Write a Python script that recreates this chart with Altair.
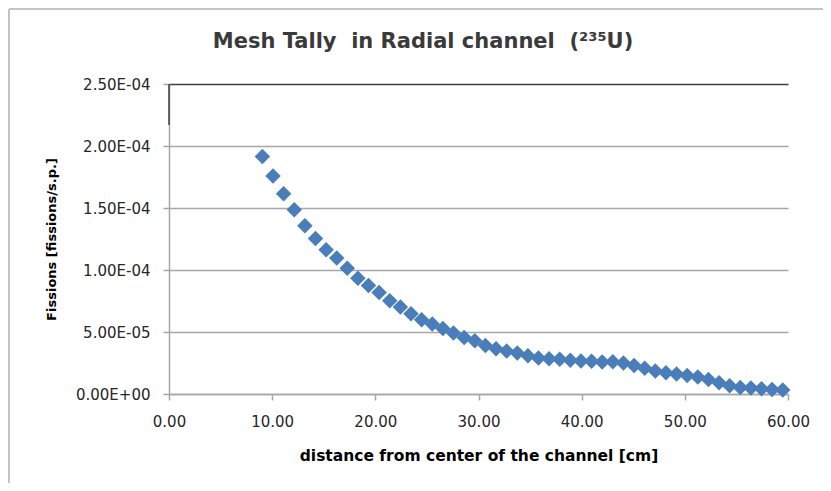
import altair as alt
import pandas as pd

# distance from center of the channel [cm] (mesh bin centres)
DISTANCE = [
    9.05, 10.08, 11.11, 12.14, 13.17, 14.20, 15.23, 16.26, 17.28, 18.31,
    19.34, 20.37, 21.40, 22.43, 23.46, 24.49, 25.52, 26.55, 27.58, 28.61,
    29.64, 30.67, 31.70, 32.73, 33.76, 34.79, 35.81, 36.84, 37.87, 38.90,
    39.93, 40.96, 41.99, 43.02, 44.05, 45.08, 46.11, 47.14, 48.17, 49.20,
    50.23, 51.26, 52.29, 53.32, 54.34, 55.37, 56.40, 57.43, 58.46, 59.49,
]
# fissions per source particle (x 1e-5)
FISSIONS_E5 = [
    19.15, 17.59, 16.14, 14.85, 13.56, 12.54, 11.63, 10.96, 10.15, 9.34,
    8.75, 8.19, 7.52, 7.01, 6.47, 5.99, 5.64, 5.28, 4.92, 4.56,
    4.30, 3.92, 3.65, 3.46, 3.30, 3.09, 2.90, 2.85, 2.80, 2.72,
    2.66, 2.64, 2.58, 2.60, 2.50, 2.30, 2.08, 1.86, 1.72, 1.62,
    1.50, 1.38, 1.16, 0.90, 0.66, 0.52, 0.48, 0.42, 0.37, 0.33,
]
Y_TICKS = [0, 5e-5, 1e-4, 1.5e-4, 2e-4, 2.5e-4]
Y_TICK_LABELS = ["0.00E+00", "5.00E-05", "1.00E-04", "1.50E-04", "2.00E-04", "2.50E-04"]
X_TICKS = [0, 10, 20, 30, 40, 50, 60]

NB = "\u00a0"
TITLE = "Mesh Tally " + NB + "in Radial channel " + NB + "(²³⁵U)"
X_TITLE = "distance from center of the channel [cm]"
Y_TITLE = "Fissions [fissions/s.p.]"

df = pd.DataFrame({"x": DISTANCE, "y": [v * 1e-5 for v in FISSIONS_E5]})

FONT = "DejaVu Sans"
label_expr = "[" + ",".join("'%s'" % s for s in Y_TICK_LABELS) + "][round(datum.value/0.00005)]"

points = alt.Chart(df).mark_point(
    shape="diamond", filled=True, size=240, color="#4a7ebb", opacity=1
).encode(
    x=alt.X("x:Q", scale=alt.Scale(domain=[0, 60], nice=False, zero=False),
            axis=alt.Axis(values=X_TICKS, format=".2f", title=X_TITLE, grid=False,
                          titleX=309.5, titleY=61, titleBaseline="middle",
                          titleAlign="center", labelPadding=14)),
    y=alt.Y("y:Q", scale=alt.Scale(domain=[0, 2.5e-4], nice=False),
            axis=alt.Axis(values=Y_TICKS, labelExpr=label_expr, title=Y_TITLE,
                          grid=True, titleX=-118, titleY=155, titleAngle=-90,
                          titleBaseline="middle", titleAlign="center",
                          titleFontSize=13, labelPadding=13,
                          gridColor=alt.condition("datum.value >= 0.00025",
                                                  alt.value("#3f3f3f"),
                                                  alt.value("#a6a6a6")))),
)

one = pd.DataFrame({"a": [0]})
frame_left = alt.Chart(one).mark_rule(color="#c4c4c4", strokeWidth=2).encode(
    x=alt.value(-160), y=alt.value(-75), y2=alt.value(420))
frame_top = alt.Chart(one).mark_rule(color="#c4c4c4", strokeWidth=2).encode(
    x=alt.value(-160), x2=alt.value(660), y=alt.value(-75))
axis_dark = alt.Chart(one).mark_rule(color="#3f3f3f", strokeWidth=1.5).encode(
    x=alt.value(0), y=alt.value(0), y2=alt.value(41))
title_text = alt.Chart(one).mark_text(
    font=FONT, fontSize=21, fontWeight="bold", color="#3a3a3a",
    align="center", baseline="middle"
).encode(x=alt.value(254), y=alt.value(-42), text=alt.value(TITLE))

chart = alt.layer(frame_left, frame_top, axis_dark, title_text, points).properties(
    width=619,
    height=310,
    background="white",
    autosize=alt.AutoSizeParams(type="none"),
    padding={"left": 161, "top": 76, "right": 35, "bottom": 89},
).configure_view(stroke=None).configure_axis(
    labelFont=FONT, labelFontSize=15, labelColor="#262626", labelFlush=False,
    titleFont=FONT, titleFontSize=15.5, titleFontWeight="bold", titleColor="#000000",
    domainColor="#a6a6a6", domainWidth=1.5, tickColor="#a6a6a6", tickSize=6,
    tickWidth=1.5, gridWidth=1.5,
)

chart.save("out.html", embed_options={"renderer": "svg", "actions": False})
